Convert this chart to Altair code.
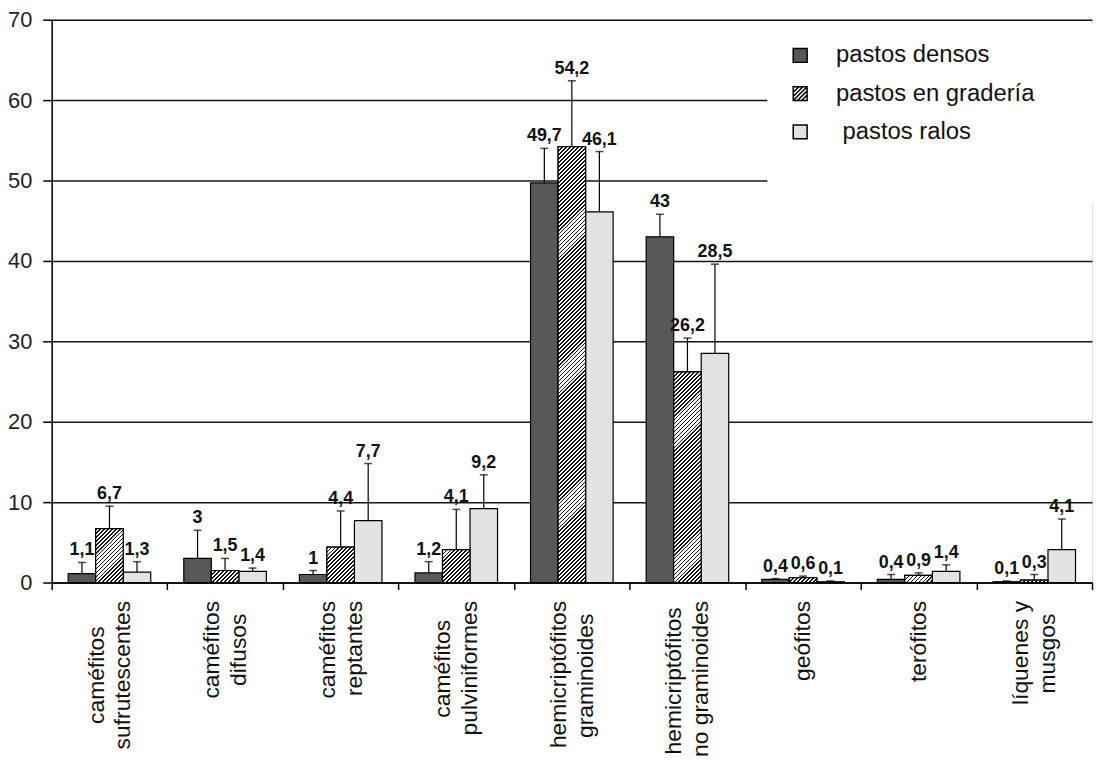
import json
import math
import altair as alt

# ---------------- data ----------------
categorias = [
    "caméfitos\nsufrutescentes",
    "caméfitos\ndifusos",
    "caméfitos\nreptantes",
    "caméfitos\npulviniformes",
    "hemicriptófitos\ngraminoides",
    "hemicriptófitos\nno graminoides",
    "geófitos",
    "terófitos",
    "líquenes y\nmusgos",
]
series = ["pastos densos", "pastos en gradería", "pastos ralos"]

densos = [1.1, 3, 1, 1.2, 49.7, 43, 0.4, 0.4, 0.1]
graderia = [6.7, 1.5, 4.4, 4.1, 54.2, 26.2, 0.6, 0.9, 0.3]
ralos = [1.3, 1.4, 7.7, 9.2, 46.1, 28.5, 0.1, 1.4, 4.1]

err_densos = [1.4, 3.5, 0.5, 1.4, 4.3, 2.8, 0.1, 0.6, 0.1]
err_graderia = [2.8, 1.5, 4.5, 5.0, 8.2, 4.2, 0.2, 0.3, 0.7]
err_ralos = [1.3, 0.4, 7.1, 4.2, 7.5, 11.1, 0.1, 0.8, 3.8]

y_ticks = [0, 10, 20, 30, 40, 50, 60, 70]

# ---------------- layout / style ----------------
W, H = 1048, 567
YMAX = 70
PAD_OUTER = 0.6
FONT = "Liberation Sans"
colores = ["#585858", "#ffffff", "#e2e2e2"]
HALF_LINE = 13.5

valores = {series[0]: densos, series[1]: graderia, series[2]: ralos}
errores = {series[0]: err_densos, series[1]: err_graderia, series[2]: err_ralos}

records = []
for s in series:
    for i, c in enumerate(categorias):
        v = valores[s][i]
        e = errores[s][i]
        records.append({
            "cat": c,
            "serie": s,
            "valor": v,
            "sup": round(v + e, 3),
            "etiqueta": f"{v:g}".replace(".", ","),
        })

# hatch pattern for "pastos en gradería" bars via a striped linear gradient
band_px = W / len(categorias)
bar_w = band_px / (len(series) + 2 * PAD_OUTER)
px_per_unit = H / YMAX


def hatch(w, h, period=4.0, ink=0.45):
    total = w + h
    k = total / (w * w + h * h)
    stops = []
    n = int(math.ceil(total / period))
    for j in range(n):
        a = min(j * period / total, 1.0)
        b = min((j + ink) * period / total, 1.0)
        c = min((j + 1) * period / total, 1.0)
        stops += [
            {"offset": round(a, 5), "color": "#151515"},
            {"offset": round(b, 5), "color": "#151515"},
            {"offset": round(b, 5), "color": "#ffffff"},
            {"offset": round(c, 5), "color": "#ffffff"},
        ]
    return {"gradient": "linear", "x1": 0, "y1": 0, "x2": w * k, "y2": h * k, "stops": stops}


hatch_records = []
for r in records:
    if r["serie"] == series[1]:
        rr = dict(r)
        rr["grad"] = hatch(bar_w, max(r["valor"] * px_per_unit, 0.5))
        hatch_records.append(rr)

# x-axis label lines: shorter line padded so lines appear centred; an invisible
# half-line spacer keeps every label block centred on its category
CW = {'a': 556, 'b': 556, 'c': 500, 'd': 556, 'e': 556, 'é': 556, 'f': 278, 'g': 556,
      'h': 556, 'i': 222, 'í': 278, 'l': 222, 'm': 833, 'n': 556, 'o': 556, 'ó': 556,
      'p': 556, 'q': 556, 'r': 333, 's': 500, 't': 278, 'u': 556, 'v': 500, 'y': 500, ' ': 278}


def wid(t):
    return sum(CW.get(ch, 556) for ch in t)


NB = "\u00a0"   # no-break space
ZW = "\u200b"   # zero-width space (keeps padding from being trimmed)
SPACER = ZW + NB + ZW
label_map = {}
for c in categorias:
    lines = c.split("\n")
    if len(lines) > 1:
        mx = max(wid(l) for l in lines)
        out = []
        for l in lines:
            n = int(round((mx - wid(l)) / 2 / 278))
            out.append(l + NB * n + ZW if n > 0 else l)
        lines = [out[0], SPACER, out[1]]
    else:
        lines = [SPACER, lines[0]]
    label_map[c] = lines
x_label_expr = json.dumps(label_map, ensure_ascii=False) + "[datum.label]"

# ---------------- encodings ----------------
x_axis = alt.Axis(
    title=None, labelAngle=270, labelAlign="right", labelBaseline="middle",
    labelPadding=11, labelFontSize=23, labelFont=FONT, labelColor="#111",
    labelLimit=0, labelLineHeight=HALF_LINE, labelOverlap=False, labelExpr=x_label_expr,
    labelOffset=-HALF_LINE,
    tickBand="extent", tickSize=7, tickColor="black", tickWidth=1.5,
    domainColor="black", domainWidth=1.5, grid=False,
)
y_axis = alt.Axis(
    title=None, values=y_ticks, grid=True, gridColor="#151515", gridWidth=1.5,
    domainColor="black", domainWidth=1.5, tickColor="black", tickSize=9, tickWidth=1.5,
    labelFontSize=22, labelPadding=11, labelColor="#222", labelFont=FONT,
)

X = alt.X("cat:N", sort=categorias, title=None,
          scale=alt.Scale(domain=categorias, paddingInner=0, paddingOuter=0), axis=x_axis)
XO = alt.XOffset("serie:N", sort=series,
                 scale=alt.Scale(domain=series, paddingInner=0, paddingOuter=PAD_OUTER))
yscale = alt.Scale(domain=[0, YMAX], nice=False, zero=True)


def Y(field):
    return alt.Y(field, scale=yscale, title=None, stack=None, axis=y_axis)


sq = "M-1,-1H1V1H-1Z"
hatch_sym = ("M-1,-1H1V1H-1Z M-1,-0.2L-0.2,-1 M-1,0.4L0.4,-1 M-1,1L1,-1 "
             "M-0.4,1L1,-0.4 M0.2,1L1,0.2")

legend_expr = ("(datum.label == 'pastos ralos' ? '" + ZW + NB + "' : '') + datum.label + '"
               + NB * 6 + ZW + "'")
leg = alt.Legend(
    orient="none", legendX=721, legendY=3, title=NB, titleOrient="bottom",
    titleFontSize=12, titlePadding=28, padding=21, fillColor="white",
    labelFontSize=24, labelFont=FONT, labelColor="#111", labelOffset=24,
    labelLimit=0, labelExpr=legend_expr, symbolSize=196, symbolStrokeColor="black",
    symbolStrokeWidth=1.5, symbolOpacity=1, rowPadding=14.5,
)

fill_scale = alt.Scale(domain=series, range=colores)

base = alt.Chart(alt.Data(values=records))

legend_pts = base.mark_point(filled=True, opacity=0, size=1, strokeWidth=1.5).encode(
    x=X, xOffset=XO, y=Y("valor:Q"),
    fill=alt.Fill("serie:N", sort=series, scale=fill_scale, legend=leg),
    shape=alt.Shape("serie:N", sort=series,
                    scale=alt.Scale(domain=series, range=[sq, hatch_sym, sq]), legend=leg),
    stroke=alt.Stroke("serie:N", sort=series,
                      scale=alt.Scale(domain=series, range=["black", "black", "black"]),
                      legend=leg),
)

bars = base.mark_bar(stroke="black", strokeWidth=1.2).encode(
    x=X, xOffset=XO, y=Y("valor:Q"),
    fill=alt.Fill("serie:N", sort=series, scale=fill_scale, legend=None),
)

hatched = alt.Chart(alt.Data(values=hatch_records)).mark_bar(stroke="black", strokeWidth=1.2).encode(
    x=X, xOffset=XO, y=Y("valor:Q"),
    fill=alt.Fill("grad:N", scale=None, legend=None),
)

err = base.mark_rule(color="black", strokeWidth=1.2).encode(
    x=X, xOffset=XO, y=Y("valor:Q"), y2="sup:Q",
)

caps = base.mark_tick(color="black", thickness=1.5, size=8).encode(
    x=X, xOffset=XO, y=Y("sup:Q"),
)

labels = base.mark_text(font=FONT, fontSize=18, fontWeight="bold", baseline="alphabetic",
                        dy=-7, color="#111").encode(
    x=X, xOffset=XO, y=Y("sup:Q"), text="etiqueta:N",
)

chart = alt.layer(legend_pts, bars, hatched, err, caps, labels).properties(
    width=W, height=H,
    padding={"left": 44, "top": 9, "right": 3, "bottom": 179},
    autosize=alt.AutoSizeParams(type="none"),
).configure_view(stroke="black", strokeWidth=1.5).configure(background="white")

chart.save("out.html", embed_options={"renderer": "svg", "actions": False})
